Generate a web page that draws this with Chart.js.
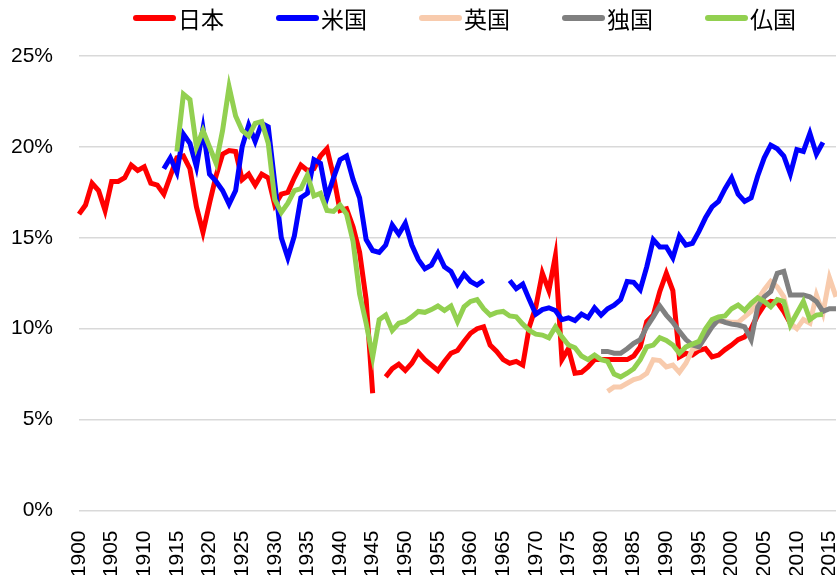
<!DOCTYPE html>
<html>
<head>
<meta charset="utf-8">
<script src="https://cdn.jsdelivr.net/npm/chart.js@4.4.0/dist/chart.umd.min.js"></script>
<style>
  html, body { margin: 0; padding: 0; background: #fff; }
</style>
</head>
<body>
<canvas id="chart" width="837" height="575"></canvas>
<script>
// categories: 1900 .. 2016
const years = [];
for (let y = 1900; y <= 2016; y++) years.push(y);

const yTicks = [0, 5, 10, 15, 20, 25];

// Japan 1900-2009 (no data for 1946)
const japanStart = 1900;
const japan = [
  16.3, 16.8, 18.0, 17.6, 16.5, 18.1, 18.1, 18.3, 19.0, 18.7,
  18.9, 18.0, 17.9, 17.4, 18.4, 19.4, 19.5, 18.8, 16.7, 15.3,
  16.9, 18.4, 19.6, 19.8, 19.75, 18.2, 18.5, 17.9, 18.5, 18.3,
  16.8, 17.4, 17.5, 18.3, 19.0, 18.7, 18.8, 19.5, 19.9, 18.4,
  16.5, 16.6, 15.6, 14.2, 11.6, 6.45, null, 7.35, 7.8, 8.05,
  7.7, 8.1, 8.7, 8.3, 8.0, 7.7, 8.2, 8.65, 8.8, 9.3,
  9.75, 10.0, 10.1, 9.1, 8.75, 8.3, 8.1, 8.2, 8.0, 10.1,
  11.2, 13.05, 12.1, 14.0, 8.3, 8.9, 7.55, 7.6, 7.9, 8.3,
  8.3, 8.3, 8.3, 8.3, 8.3, 8.5, 9.0, 10.4, 10.75, 12.05,
  13.05, 12.1, 8.45, 8.65, 8.55, 8.8, 8.9, 8.45, 8.55, 8.85,
  9.1, 9.4, 9.55, 10.0, 10.75, 11.3, 11.5, 11.45, 10.95, 10.3
];

// United States 1913-2014 (no data 1963-1965)
const usStart = 1913;
const us = [
  18.8, 19.4, 18.6, 20.7, 20.2, 18.9, 21.0,
  18.5, 18.1, 17.6, 16.85, 17.6, 20.0, 21.2, 20.3, 21.3, 21.1,
  18.0, 15.0, 13.9, 15.1, 17.2, 17.45, 19.3, 19.1, 17.2, 18.3,
  19.3, 19.5, 18.2, 17.2, 14.9, 14.3, 14.2, 14.6, 15.7, 15.2,
  15.8, 14.6, 13.8, 13.3, 13.5, 14.15, 13.4, 13.15, 12.45, 13.0,
  12.6, 12.4, 12.65, null, null, null, 12.65, 12.2, 12.45, 11.6,
  10.8, 11.05, 11.15, 11.0, 10.5, 10.6, 10.45, 10.8, 10.6, 11.15,
  10.75, 11.1, 11.3, 11.6, 12.6, 12.55, 12.15, 13.4, 14.9, 14.5,
  14.5, 13.9, 15.1, 14.6, 14.7, 15.35, 16.1, 16.7, 17.0, 17.7,
  18.3, 17.4, 17.0, 17.2, 18.4, 19.4, 20.1, 19.9, 19.5, 18.5,
  19.85, 19.75, 20.75, 19.6, 20.25
];

// United Kingdom 1981-2016
const ukStart = 1981;
const uk = [
  6.55, 6.8, 6.8, 7.0, 7.2, 7.3, 7.55, 8.3, 8.25,
  7.9, 8.0, 7.6, 8.1, 8.85, 9.0, 9.9, 10.3, 10.4, 10.4,
  10.35, 10.35, 10.65, 10.95, 11.6, 12.15, 12.6, 12.3, 11.75, 10.3,
  10.0, 10.5, 10.3, 11.85, 10.85, 12.8, 11.75
];

// Germany 1980-2016
const germanyStart = 1980;
const germany = [
  8.75, 8.75, 8.65, 8.65, 8.9, 9.2, 9.4, 10.1, 10.65, 11.25,
  10.75, 10.35, 9.85, 9.4, 9.1, 9.0, 9.55, 10.1, 10.5, 10.35,
  10.25, 10.2, 10.1, 9.4, 11.2, 11.75, 12.05, 13.05, 13.15, 11.85,
  11.85, 11.85, 11.75, 11.5, 10.95, 11.1, 11.1
];

// France 1915-2014
const franceStart = 1915;
const france = [
  19.75, 22.9, 22.6, 20.0, 20.9,
  20.0, 19.1, 20.9, 23.3, 21.7, 20.9, 20.6, 21.3, 21.4, 20.2,
  17.1, 16.4, 16.9, 17.6, 17.7, 18.45, 17.3, 17.45, 16.5, 16.45,
  16.8, 16.3, 14.8, 11.9, 10.3, 8.45, 10.5, 10.75, 9.9, 10.3,
  10.4, 10.65, 10.95, 10.9, 11.05, 11.25, 11.0, 11.25, 10.4, 11.2,
  11.5, 11.6, 11.1, 10.75, 10.9, 10.95, 10.7, 10.65, 10.25, 9.9,
  9.7, 9.65, 9.5, 10.1, 9.55, 9.1, 8.95, 8.5, 8.3, 8.55,
  8.3, 8.2, 7.5, 7.35, 7.55, 7.8, 8.3, 9.0, 9.1, 9.5,
  9.35, 9.1, 8.65, 9.0, 9.15, 9.3, 10.0, 10.5, 10.65, 10.7,
  11.1, 11.3, 11.0, 11.4, 11.7, 11.5, 11.2, 11.6, 11.5, 10.2,
  10.85, 11.5, 10.5, 10.75, 10.8
];

// line a series up with the year categories
function alignToYears(start, values) {
  return years.map(y => {
    const v = values[y - start];
    return v === undefined ? null : v;
  });
}

// Legend drawn as in the original: short thick line, then the name
const legendLines = {
  id: 'legendLines',
  afterDraw(chart) {
    const ctx = chart.ctx;
    ctx.save();
    ctx.font = '23px "Noto Sans CJK JP"';
    ctx.textBaseline = 'middle';
    chart.data.datasets.forEach((ds, i) => {
      const x = 133 + i * 143;
      ctx.strokeStyle = ds.borderColor;
      ctx.lineWidth = 6;
      ctx.lineCap = 'round';
      ctx.beginPath();
      ctx.moveTo(x + 3, 18);
      ctx.lineTo(x + 40, 18);
      ctx.stroke();
      ctx.fillStyle = '#000';
      ctx.fillText(ds.label, x + 45, 19);
    });
    ctx.restore();
  }
};

function series(label, color, start, values, order) {
  return {
    label: label,
    data: alignToYears(start, values),
    borderColor: color,
    backgroundColor: color,
    borderWidth: 5,
    pointRadius: 0,
    tension: 0,
    spanGaps: false,
    order: order
  };
}

new Chart(document.getElementById('chart'), {
  type: 'line',
  data: {
    labels: years,
    datasets: [
      series('日本', '#FF0000', japanStart, japan, 5),
      series('米国', '#0000FF', usStart, us, 4),
      series('英国', '#F8CBAD', ukStart, uk, 3),
      series('独国', '#808080', germanyStart, germany, 2),
      series('仏国', '#92D050', franceStart, france, 1)
    ]
  },
  options: {
    responsive: false,
    animation: false,
    layout: { padding: { left: 11, right: 1, top: 56, bottom: 0 } },
    plugins: {
      legend: { display: false },
      tooltip: { enabled: false }
    },
    scales: {
      x: {
        type: 'category',
        offset: false,
        grid: { display: false },
        border: { display: false },
        ticks: {
          autoSkip: false,
          minRotation: 90,
          maxRotation: 90,
          padding: 12,
          color: '#000',
          font: { family: '"Liberation Sans", Arial', size: 21 },
          callback: function (val, idx) {
            return years[idx] % 5 === 0 ? String(years[idx]) : '';
          }
        },
        afterFit: s => {
          s.height = 64.5;
          s.paddingLeft = 0;
          s.paddingRight = 0;
        }
      },
      y: {
        min: yTicks[0],
        max: yTicks[yTicks.length - 1],
        grid: { color: '#d9d9d9', lineWidth: 1.5, drawTicks: false },
        border: { display: false },
        afterBuildTicks: s => { s.ticks = yTicks.map(v => ({ value: v })); },
        ticks: {
          padding: 26,
          color: '#000',
          font: { family: '"Liberation Sans", Arial', size: 21 },
          callback: v => v + '%'
        },
        afterFit: s => { s.width = 68; }
      }
    }
  },
  plugins: [legendLines]
});
</script>
</body>
</html>
